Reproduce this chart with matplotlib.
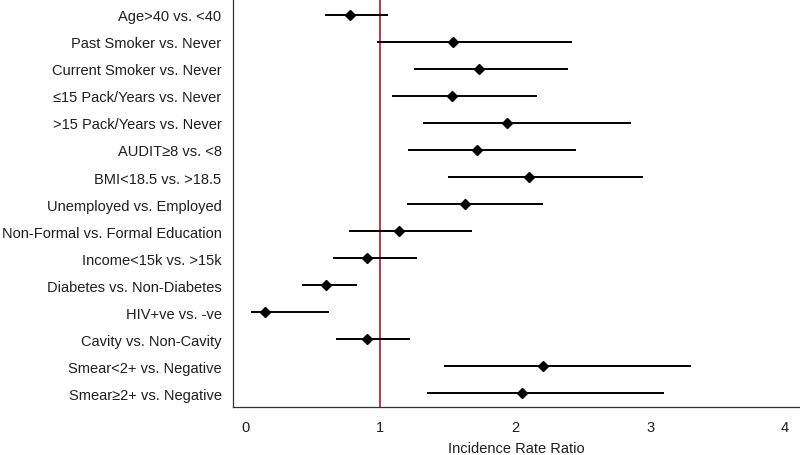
import matplotlib
matplotlib.use("Agg")
import matplotlib.pyplot as plt

labels = [
    "Age>40 vs. <40",
    "Past Smoker vs. Never",
    "Current Smoker vs. Never",
    "≤15 Pack/Years vs. Never",
    ">15 Pack/Years vs. Never",
    "AUDIT≥8 vs. <8",
    "BMI<18.5 vs. >18.5",
    "Unemployed vs. Employed",
    "Non-Formal vs. Formal Education",
    "Income<15k vs. >15k",
    "Diabetes vs. Non-Diabetes",
    "HIV+ve vs. -ve",
    "Cavity vs. Non-Cavity",
    "Smear<2+ vs. Negative",
    "Smear≥2+ vs. Negative",
]
irr = [0.78, 1.54, 1.73, 1.53, 1.94, 1.72, 2.10, 1.63, 1.14, 0.90, 0.60, 0.15, 0.90, 2.21, 2.05]
lower = [0.59, 0.98, 1.25, 1.09, 1.32, 1.21, 1.50, 1.20, 0.77, 0.65, 0.42, 0.04, 0.67, 1.47, 1.35]
upper = [1.06, 2.42, 2.39, 2.16, 2.86, 2.45, 2.95, 2.21, 1.68, 1.27, 0.83, 0.62, 1.22, 3.30, 3.10]
xticks = [0, 1, 2, 3, 4]

plt.rcParams['font.family'] = ['Liberation Sans', 'DejaVu Sans']

fig = plt.figure(figsize=(8, 4.56), dpi=100)
ax = fig.add_axes([0.2917, 0.1059, 0.7083, 0.8941])

ypos = list(range(len(labels)))
ax.axvline(1, color='#B2182B', lw=1.2, zorder=1)
ax.hlines(ypos, lower, upper, color='black', lw=1.4, zorder=2)
ax.plot(irr, ypos, linestyle='none', marker='D', markersize=5.3, color='black', zorder=3)

ax.set_xlim(-0.087, 4.11)
ax.set_ylim(14.49, -0.58)
ax.set_yticks(ypos)
ax.set_yticklabels(labels)
ax.set_xticks(xticks)
ax.set_xticklabels([str(t) for t in xticks])
ax.tick_params(axis='y', length=0, pad=8.5, labelsize=10.5, labelcolor='#1e1e1e')
ax.tick_params(axis='x', length=0, pad=9.5, labelsize=10.5, labelcolor='#1e1e1e')
ax.set_xlabel("Incidence Rate Ratio", fontsize=10.5, color='#1e1e1e', labelpad=5)

for s in ['top', 'right']:
    ax.spines[s].set_visible(False)
for s in ['left', 'bottom']:
    ax.spines[s].set_color('#333333')
    ax.spines[s].set_linewidth(0.9)

fig.savefig("out.png", dpi=100)
